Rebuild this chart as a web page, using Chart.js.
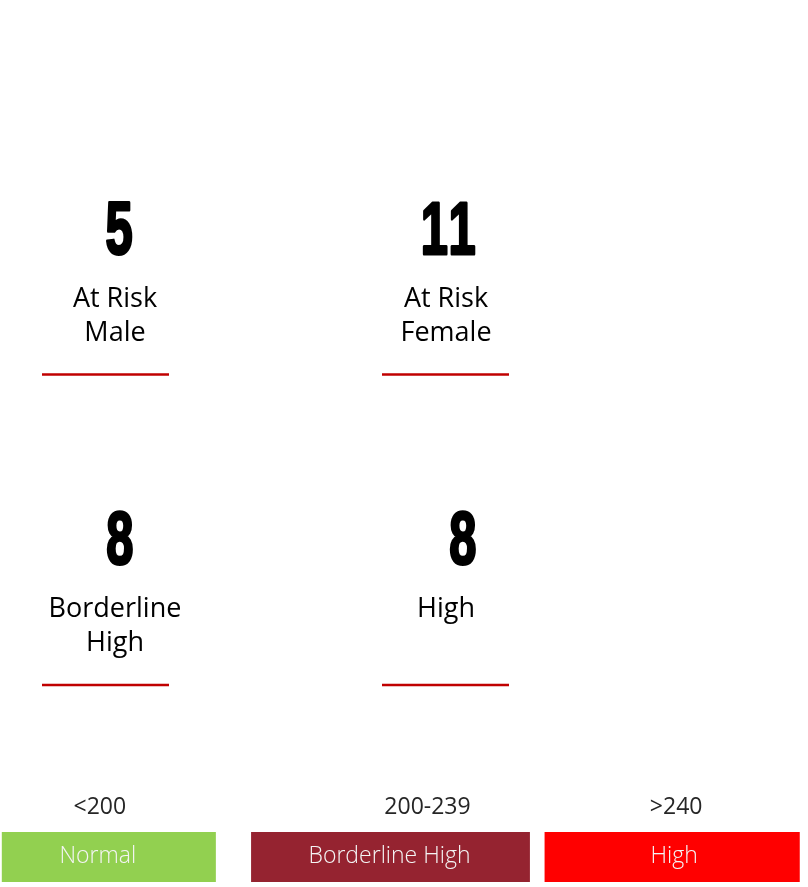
<!DOCTYPE html>
<html>
<head>
<meta charset="utf-8">
<script src="https://cdn.jsdelivr.net/npm/chart.js@4/dist/chart.umd.min.js"></script>
<style>
  html, body { margin: 0; padding: 0; background: #fff; }
  #wrap { position: relative; width: 808px; height: 887px; overflow: hidden; }
  #tiles { position: absolute; left: 0; top: 0; }
  #bands { position: absolute; left: -32px; top: 780px; }
</style>
</head>
<body>
<div id="wrap">
  <canvas id="tiles" width="808" height="887"></canvas>
  <canvas id="bands" width="845" height="102"></canvas>
</div>
<script>
// KPI tiles
const tileValues = [5, 11, 8, 8];
const tileLabels = [['At Risk', 'Male'], ['At Risk', 'Female'], ['Borderline', 'High'], ['High']];

// cholesterol ranges
const rangeCategories = ['Normal', 'Borderline High', 'High'];
const rangeLabels = ['<200', '200-239', '>240'];
const rangeColors = ['#92d050', '#952330', '#ff0000'];

const labelFont = '"Open Sans", "Noto Sans", sans-serif';

// small per-column shifts (left col, right col) for the tile pieces
const numberShift = [22, 27];
const captionShift = [5, -2];
const underlineShift = [-4.5, -2.5];

// draws number, caption and red underline at each (hidden) point
const tilePlugin = {
    id: 'tileText',
    afterDatasetsDraw(chart) {
        const ctx = chart.ctx;
        chart.getDatasetMeta(0).data.forEach((pt, i) => {
            const x = pt.x, y = pt.y, col = i % 2;
            const txt = String(tileValues[i]);

            ctx.save();
            ctx.fillStyle = '#000';
            ctx.strokeStyle = '#000';
            ctx.lineJoin = 'round';
            ctx.font = 'bold 74px "Liberation Sans Narrow", "Liberation Sans", sans-serif';
            ctx.letterSpacing = '5px';
            ctx.textBaseline = 'alphabetic';
            ctx.translate(x + numberShift[col], y - 121);
            ctx.scale(0.66, 1);
            const m = ctx.measureText(txt);
            ctx.lineWidth = 3;
            ctx.fillText(txt, -m.actualBoundingBoxRight, 0);
            ctx.strokeText(txt, -m.actualBoundingBoxRight, 0);
            ctx.restore();

            ctx.save();
            ctx.fillStyle = '#000';
            ctx.font = '27px ' + labelFont;
            ctx.textAlign = 'center';
            ctx.textBaseline = 'alphabetic';
            tileLabels[i].forEach((line, k) => ctx.fillText(line, x + captionShift[col], y - 68 + k * 34));
            ctx.restore();

            ctx.save();
            ctx.strokeStyle = '#c00000';
            ctx.lineWidth = 2.5;
            ctx.beginPath();
            ctx.moveTo(x + underlineShift[col] - 63.5, y);
            ctx.lineTo(x + underlineShift[col] + 63.5, y);
            ctx.stroke();
            ctx.restore();
        });
    }
};

new Chart(document.getElementById('tiles'), {
    type: 'scatter',
    data: {
        datasets: [{
            data: tileValues.map((v, i) => ({ x: i % 2, y: Math.floor(i / 2) })),
            pointRadius: 0
        }]
    },
    options: {
        responsive: false,
        animation: false,
        layout: { padding: 0 },
        plugins: { legend: { display: false }, tooltip: { enabled: false } },
        scales: {
            x: { type: 'linear', display: false, min: -110 / 338, max: -110 / 338 + 808 / 338 },
            y: { type: 'linear', display: false, reverse: true, min: -374.5 / 310.5, max: -374.5 / 310.5 + 887 / 310.5 }
        }
    },
    plugins: [tilePlugin]
});

// range labels above and band names inside each bar
const bandTextNudge = [-11, -1, 2];
const rangeTextNudge = [-9, 37, 4];
const bandPlugin = {
    id: 'bandText',
    afterDatasetsDraw(chart) {
        const ctx = chart.ctx;
        rangeCategories.forEach((cat, i) => {
            const bar = chart.getDatasetMeta(i).data[i];
            ctx.save();
            ctx.textAlign = 'center';
            ctx.textBaseline = 'alphabetic';
            ctx.fillStyle = '#f4f4f4';
            ctx.font = '300 23px ' + labelFont;
            ctx.fillText(cat, bar.x + bandTextNudge[i], bar.y + 31);
            ctx.fillStyle = '#262626';
            ctx.font = '23px ' + labelFont;
            ctx.fillText(rangeLabels[i], bar.x + rangeTextNudge[i], bar.y - 18);
            ctx.restore();
        });
    }
};

new Chart(document.getElementById('bands'), {
    type: 'bar',
    data: {
        labels: rangeCategories,
        datasets: rangeCategories.map((cat, i) => ({
            label: cat,
            data: rangeCategories.map((c, j) => (j === i ? 1 : null)),
            backgroundColor: rangeColors[i],
            borderWidth: 0,
            grouped: false,
            categoryPercentage: 1,
            barPercentage: [0.76, 0.99, 0.906][i]
        }))
    },
    options: {
        responsive: false,
        animation: false,
        layout: { padding: 0 },
        plugins: { legend: { display: false }, tooltip: { enabled: false } },
        scales: {
            x: { display: false, offset: true },
            y: { display: false, min: 0, max: 102 / 50 }
        }
    },
    plugins: [bandPlugin]
});
</script>
</body>
</html>
